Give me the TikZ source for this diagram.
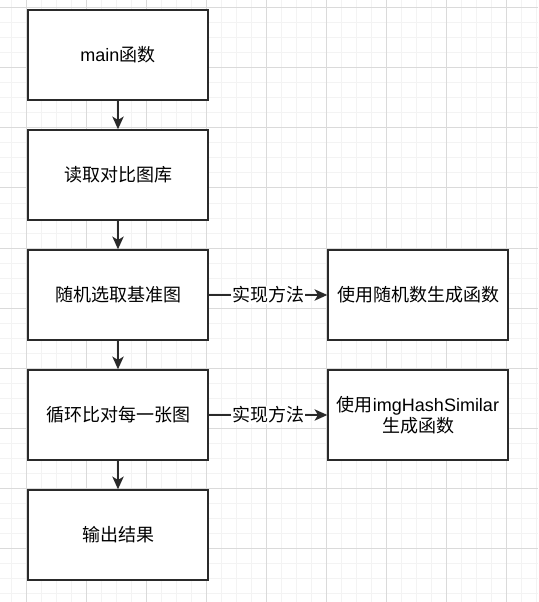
\documentclass[tikz,border=0pt]{standalone}
\usepackage{fontspec}
\setmainfont{Liberation Sans}
\newfontfamily\cjk{Noto Sans CJK SC}
\usetikzlibrary{arrows.meta}
\definecolor{gridminor}{HTML}{F3F3F3}
\definecolor{gridmajor}{HTML}{DADADA}
\definecolor{boxline}{HTML}{2A2A2A}
\tikzset{
  stepbox/.style={draw=boxline,line width=1.1pt,fill=white,minimum width=135pt,
    minimum height=67.5pt,inner sep=0pt,align=center,font=\fontsize{13.5}{16}\selectfont},
  flow/.style={draw=boxline,line width=1.1pt,-{Stealth[length=9.5pt,width=8.5pt,inset=2.5pt]}},
  howlabel/.style={fill=white,inner sep=0.5pt,font=\fontsize{13.5}{16}\selectfont}
}
\begin{document}
\begin{tikzpicture}[x=0.75pt,y=-0.75pt]
  \useasboundingbox (0,0) rectangle (538,602);
  % background grid
  \foreach \x in {11,26,...,536} \draw[gridminor,line width=0.75pt] (\x,0) -- (\x,602);
  \foreach \y in {8,23,...,600} \draw[gridminor,line width=0.75pt] (0,\y) -- (538,\y);
  \foreach \x in {26,86,...,506} \draw[gridmajor,line width=0.75pt] (\x,0) -- (\x,602);
  \foreach \y in {8,68,...,548} \draw[gridmajor,line width=0.75pt] (0,\y) -- (538,\y);
  % main column
  \node[stepbox] (mainfn) at (118,55) {main{\cjk 函数}};
  \node[stepbox] (readlib) at (118,175) {{\cjk 读取对比图库}};
  \node[stepbox] (pickbase) at (118,295) {{\cjk 随机选取基准图}};
  \node[stepbox] (loopcmp) at (118,415) {{\cjk 循环比对每一张图}};
  \node[stepbox] (output) at (118,535) {{\cjk 输出结果}};
  % right column
  \node[stepbox] (randfn) at (418,295) {{\cjk 使用随机数生成函数}};
  \node[stepbox] (hashfn) at (418,415) {{\cjk 使用}imgHashSimilar\\{\cjk 生成函数}};
  % connectors
  \draw[flow] (mainfn) -- (readlib);
  \draw[flow] (readlib) -- (pickbase);
  \draw[flow] (pickbase) -- (loopcmp);
  \draw[flow] (loopcmp) -- (output);
  \draw[flow] (pickbase) -- node[howlabel] {\cjk 实现方法} (randfn);
  \draw[flow] (loopcmp) -- node[howlabel] {\cjk 实现方法} (hashfn);
\end{tikzpicture}
\end{document}
